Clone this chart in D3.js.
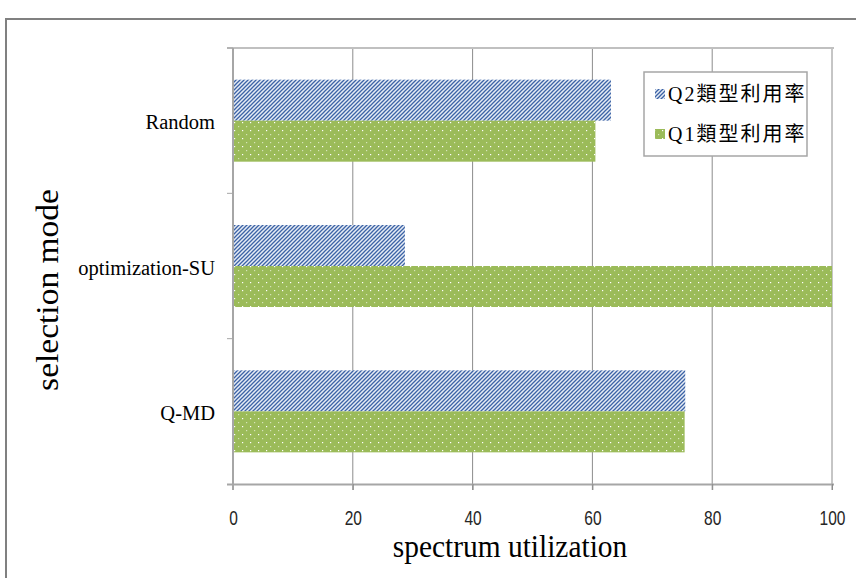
<!DOCTYPE html>
<html>
<head>
<meta charset="utf-8">
<script src="https://cdn.jsdelivr.net/npm/d3@7"></script>
<style>
  html, body { margin: 0; padding: 0; background: #fff; }
  svg { display: block; }
</style>
</head>
<body>
<svg id="chart" width="856" height="578"></svg>
<script>
// Selection modes, listed bottom to top
const categories = ["Q-MD", "optimization-SU", "Random"];
// Utilization per type (%)
const q2Values = [75.5, 28.7, 63.1];
const q1Values = [75.4, 100, 60.5];
const seriesNames = ["Q2類型利用率", "Q1類型利用率"];
const xTicks = [0, 20, 40, 60, 80, 100];

const svg = d3.select("#chart");
const plotLeft = 233, plotRight = 832, plotTop = 48, plotBottom = 484;

// Patterns: diagonal hatch and dotted green
const defs = svg.append("defs");
const hatch = defs.append("pattern").attr("id", "hatch")
  .attr("patternUnits", "userSpaceOnUse").attr("width", 4).attr("height", 4);
hatch.append("rect").attr("width", 4).attr("height", 4).attr("fill", "#e6ecf5");
hatch.append("path").attr("d", "M-1,1 L1,-1 M0,4 L4,0 M3,5 L5,3")
  .attr("stroke", "#3c63a6").attr("stroke-width", 1.3);

const dots = defs.append("pattern").attr("id", "dots")
  .attr("patternUnits", "userSpaceOnUse").attr("width", 8).attr("height", 8);
dots.append("rect").attr("width", 8).attr("height", 8).attr("fill", "#9bbb59");
dots.append("rect").attr("x", 2).attr("y", 2).attr("width", 1.2).attr("height", 1.2).attr("fill", "#ffffff");
dots.append("rect").attr("x", 6).attr("y", 6).attr("width", 1.2).attr("height", 1.2).attr("fill", "#d6e4b8");

// Outer frame
svg.append("rect").attr("x", 6).attr("y", 19).attr("width", 900).attr("height", 600)
  .attr("fill", "none").attr("stroke", "#808080").attr("stroke-width", 2);

const x = d3.scaleLinear().domain([0, 100]).range([plotLeft, plotRight]);
const y0 = d3.scaleBand().domain(categories).range([plotBottom, plotTop]).padding(0);
const y1 = d3.scaleBand().domain(["Q2", "Q1"]).range([0, y0.bandwidth()])
  .paddingInner(0).paddingOuter(0.772);

// Vertical gridlines
svg.append("g").selectAll("line").data(xTicks.slice(1)).join("line")
  .attr("x1", d => x(d)).attr("x2", d => x(d))
  .attr("y1", plotTop).attr("y2", plotBottom + 6)
  .attr("stroke", "#8c8c8c").attr("stroke-width", 1);

// Top border of the plot
svg.append("line").attr("x1", plotLeft - 6).attr("x2", plotRight + 2)
  .attr("y1", plotTop).attr("y2", plotTop)
  .attr("stroke", "#c0c0c0").attr("stroke-width", 2);

// Bars
const rows = categories.map((c, i) => ({ c, q2: q2Values[i], q1: q1Values[i] }));
const g = svg.append("g");
g.selectAll("rect.q2").data(rows).join("rect").attr("class", "q2")
  .attr("x", x(0)).attr("y", d => y0(d.c) + y1("Q2"))
  .attr("width", d => x(d.q2) - x(0)).attr("height", y1.bandwidth())
  .attr("fill", "url(#hatch)");
g.selectAll("rect.q1").data(rows).join("rect").attr("class", "q1")
  .attr("x", x(0)).attr("y", d => y0(d.c) + y1("Q1"))
  .attr("width", d => x(d.q1) - x(0)).attr("height", y1.bandwidth())
  .attr("fill", "url(#dots)");

// X axis
const xAxis = svg.append("g").attr("transform", `translate(0,${plotBottom})`)
  .call(d3.axisBottom(x).tickValues(xTicks).tickSize(6).tickPadding(20));
xAxis.select(".domain").attr("stroke", "#a6a6a6").attr("stroke-width", 2)
  .attr("d", `M${plotLeft - 6},0.5H${plotRight + 2}`);
xAxis.selectAll(".tick line").attr("stroke", "#8c8c8c");
xAxis.selectAll(".tick text")
  .attr("font-family", "'Liberation Sans', sans-serif")
  .attr("font-size", 21).attr("fill", "#262626")
  .attr("transform", "scale(0.74,1)");

// Y axis
const yAxis = svg.append("g").attr("transform", `translate(${plotLeft},0)`)
  .call(d3.axisLeft(y0).tickSize(0).tickPadding(18));
yAxis.select(".domain").attr("stroke", "#a6a6a6").attr("stroke-width", 2)
  .attr("d", `M0,${plotTop}V${plotBottom + 6}`);
yAxis.selectAll(".tick text")
  .attr("font-family", "'Liberation Serif', serif")
  .attr("font-size", 20.5).attr("fill", "#000")
  .attr("dy", "0.42em");
// Category boundary ticks
const bounds = Array.from(new Set([plotTop, ...categories.map(c => y0(c))]));
svg.append("g").selectAll("line").data(bounds).join("line")
  .attr("x1", plotLeft - 6).attr("x2", plotLeft).attr("y1", d => d).attr("y2", d => d)
  .attr("stroke", "#a6a6a6").attr("stroke-width", 1);

// Axis titles
svg.append("text").attr("transform", "translate(510,557) scale(0.92,1)")
  .attr("text-anchor", "middle")
  .attr("font-family", "'Liberation Serif', serif").attr("font-size", 32)
  .text("spectrum utilization");
svg.append("text").attr("transform", "translate(58,290) rotate(-90) scale(1,0.92)")
  .attr("text-anchor", "middle")
  .attr("font-family", "'Liberation Serif', serif").attr("font-size", 33.5)
  .text("selection mode");

// Legend
const lg = svg.append("g").attr("transform", "translate(644,72)");
lg.append("rect").attr("width", 163).attr("height", 84)
  .attr("fill", "#fff").attr("stroke", "#a6a6a6").attr("stroke-width", 1.5);
const fills = ["url(#hatch)", "url(#dots)"];
seriesNames.forEach((name, i) => {
  const yy = 21 + i * 40;
  lg.append("rect").attr("x", 11).attr("y", yy - 4).attr("width", 10).attr("height", 10)
    .attr("fill", fills[i]);
  lg.append("text").attr("x", 24).attr("y", yy + 8)
    .attr("font-family", "'Liberation Serif', 'Noto Sans CJK TC', serif")
    .attr("font-size", 20).attr("letter-spacing", 2).text(name);
});
</script>
</body>
</html>
